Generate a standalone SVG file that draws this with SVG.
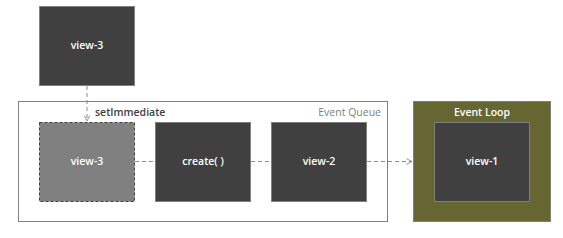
<svg xmlns="http://www.w3.org/2000/svg" width="563" height="238" viewBox="0 0 563 238">
<defs>
<style>
.node{fill:#404040;stroke:#808080;stroke-width:1}
.lbl{font-family:"Open Sans","Liberation Sans",sans-serif;font-size:10.5px;fill:#ffffff;font-weight:600;text-anchor:middle}
.conn{fill:none;stroke:#8c8c8c;stroke-width:1;stroke-dasharray:4,3}
.txt{font-family:"Open Sans","Liberation Sans",sans-serif;font-size:10.5px}
</style>
<marker id="arr" viewBox="0 0 10 10" refX="9" refY="5" markerWidth="7" markerHeight="7" orient="auto" markerUnits="userSpaceOnUse">
<path d="M1,1 L9,5 L1,9" fill="none" stroke="#8c8c8c" stroke-width="1.3"/>
</marker>
</defs>
<rect width="563" height="238" fill="#ffffff"/>
<g id="event-queue">
<rect x="18.5" y="101.5" width="369" height="120" fill="#ffffff" stroke="#808080"/>
<text class="txt" x="381" y="116" text-anchor="end" fill="#808080">Event Queue</text>
</g>
<g id="event-loop">
<rect x="413.5" y="101.5" width="137" height="120" fill="#666633" stroke="#808080"/>
<text class="txt" x="482" y="116" text-anchor="middle" fill="#ffffff" font-weight="600">Event Loop</text>
</g>
<g id="connectors">
<line class="conn" x1="87" y1="86" x2="87" y2="121" marker-end="url(#arr)"/>
<text class="txt" x="95" y="116" fill="#404040" font-weight="600">setImmediate</text>
<line class="conn" x1="135" y1="161.5" x2="155" y2="161.5"/>
<line class="conn" x1="251" y1="161.5" x2="271" y2="161.5"/>
<line class="conn" x1="367" y1="161.5" x2="412" y2="161.5" marker-end="url(#arr)"/>
</g>
<g id="view-3-top">
<rect class="node" x="39.5" y="6.5" width="95" height="79"/>
<text class="lbl" x="87" y="49">view-3</text>
</g>
<g id="view-3-queued">
<rect x="39.5" y="122.5" width="95" height="79" fill="#808080" stroke="#404040" stroke-dasharray="3,2"/>
<text class="lbl" x="87" y="165">view-3</text>
</g>
<g id="create">
<rect class="node" x="155.5" y="122.5" width="95" height="79"/>
<text class="lbl" x="203" y="165">create( )</text>
</g>
<g id="view-2">
<rect class="node" x="271.5" y="122.5" width="95" height="79"/>
<text class="lbl" x="319" y="165">view-2</text>
</g>
<g id="view-1">
<rect class="node" x="434.5" y="122.5" width="95" height="79"/>
<text class="lbl" x="482" y="165">view-1</text>
</g>
</svg>
